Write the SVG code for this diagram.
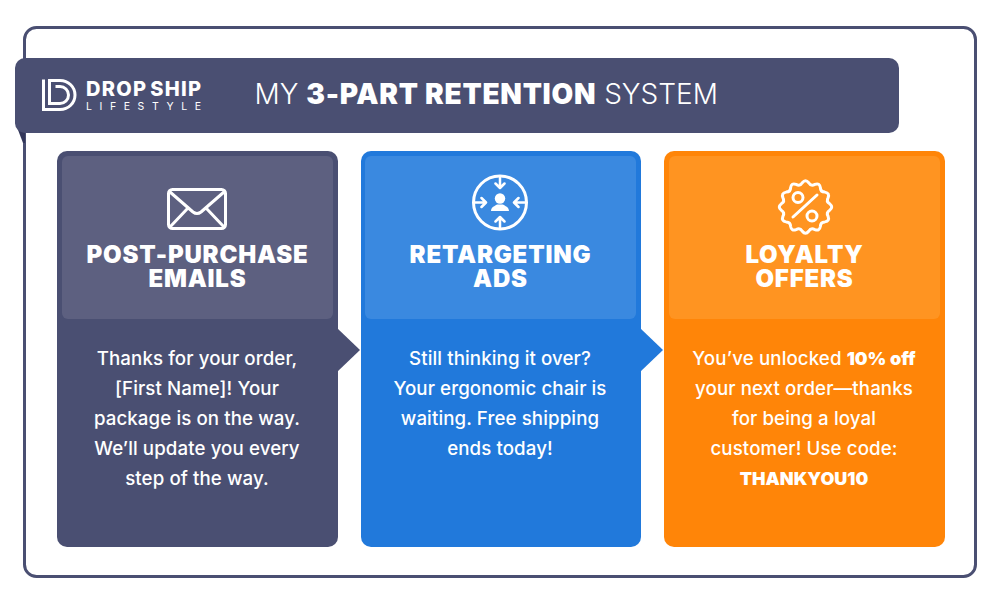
<svg xmlns="http://www.w3.org/2000/svg" width="1000" height="600" viewBox="0 0 1000 600">
<style>
text{font-family:Inter,"Liberation Sans",sans-serif;fill:#fff;text-anchor:middle}
.h{font-size:24px;font-weight:900;letter-spacing:.8px}
.b{font-size:18.700px;font-weight:500;letter-spacing:.1px}
.s{font-weight:900;font-size:18px;letter-spacing:0}
.i{fill:none;stroke:#fff;stroke-width:3;stroke-linecap:round;stroke-linejoin:round}
.f{fill:#fff;stroke:none}
</style>
<rect x="24.500" y="27.500" width="951" height="549" rx="12" fill="#fff" stroke="#4a4f72" stroke-width="3"/>
<g id="banner">
<path d="M15 122L23 143H25V122Z" fill="#33375a"/>
<rect x="15" y="58" width="884" height="75" rx="10" fill="#4a4f72"/>
<g id="logo">
<path d="M43.500 79.500V109.500H60C68.500 109.500 75 103 75 95S68.500 80.500 60 80.500H49.500V103.500H60C64.700 103.500 68.500 99.700 68.500 95S64.700 86.500 60 86.500H55.500" fill="none" stroke="#fff" stroke-width="3"/>
<text x="86" y="96" textLength="115" lengthAdjust="spacing" style="font-size:20px;font-weight:800;text-anchor:start;word-spacing:-3px">DROP SHIP</text>
<text x="86" y="110" textLength="115" lengthAdjust="spacing" style="font-size:10.500px;font-weight:400;text-anchor:start">LIFESTYLE</text>
</g>
<text x="254.500" y="104" style="font-size:28px;font-weight:300;letter-spacing:0;text-anchor:start">MY <tspan style="font-weight:900;letter-spacing:.75px">3-PART RETENTION</tspan> SYSTEM</text>
</g>
<g id="connectors">
<path d="M337 328L360 350L337 372Z" fill="#4a4f72"/>
<path d="M640 328L663 350L640 372Z" fill="#2179db"/>
</g>
<g id="card-emails">
<rect x="57" y="151" width="281" height="396" rx="10" fill="#4a4f72"/>
<rect x="62" y="156" width="271" height="163" rx="6" fill="#5d6080"/>
<g id="icon-mail" class="i">
<rect x="168.500" y="189.500" width="57" height="39" rx="4"/>
<path d="M170 192L193 212Q197 215 201 212L224 192M170 227L188 208M224 227L206 208"/>
</g>
<text class="h" x="197.500" y="263"><tspan x="197.500">POST-PURCHASE</tspan><tspan x="197.500" dy="24">EMAILS</tspan></text>
<text class="b" x="197" y="365">Thanks for your order,</text>
<text class="b" x="197" y="395">[First Name]! Your</text>
<text class="b" x="197" y="425">package is on the way.</text>
<text class="b" x="197" y="455">We’ll update you every</text>
<text class="b" x="197" y="485">step of the way.</text>
</g>
<g id="card-ads">
<rect x="361" y="151" width="280" height="396" rx="10" fill="#2179db"/>
<rect x="365" y="156" width="271" height="163" rx="6" fill="#3a89e0"/>
<g id="icon-target">
<circle class="i" cx="500" cy="202.500" r="26.500"/>
<path class="i" style="stroke-width:2.500" d="M500 178V187M495.500 183.500L500 188L504.500 183.500M500 227V218M495.500 221.500L500 217L504.500 221.500M475 202.500H485M481.500 198L486 202.500L481.500 207M525 202.500H515M518.500 198L514 202.500L518.500 207"/>
<circle class="f" cx="500" cy="198.500" r="5.200"/>
<path class="f" d="M491 211C491 207 495 206 497 204.500H503C505 206 509 207 509 211Z"/>
</g>
<text class="h" x="500.500" y="263"><tspan x="500.500">RETARGETING</tspan><tspan x="500.500" dy="24">ADS</tspan></text>
<text class="b" x="500" y="365">Still thinking it over?</text>
<text class="b" x="500" y="395">Your ergonomic chair is</text>
<text class="b" x="500" y="425">waiting. Free shipping</text>
<text class="b" x="500" y="455">ends today!</text>
</g>
<g id="card-offers">
<rect x="664" y="151" width="281" height="396" rx="10" fill="#ff8508"/>
<rect x="669" y="156" width="271" height="163" rx="6" fill="#ff9421"/>
<g id="icon-badge">
<path class="i" transform="translate(805.500 207) scale(.94)" style="stroke-width:3.200" d="M25.780 -3.390Q30 0 25.780 3.390Q21.730 5.820 24.020 9.950Q25.980 15 20.630 15.830Q15.910 15.910 15.830 20.630Q15 25.980 9.950 24.020Q5.820 21.730 3.390 25.780Q0 30 -3.390 25.780Q-5.820 21.730 -9.950 24.020Q-15 25.980 -15.830 20.630Q-15.910 15.910 -20.630 15.830Q-25.980 15 -24.020 9.950Q-21.730 5.820 -25.780 3.390Q-30 0 -25.780 -3.390Q-21.730 -5.820 -24.020 -9.950Q-25.980 -15 -20.630 -15.830Q-15.910 -15.910 -15.830 -20.630Q-15 -25.980 -9.950 -24.020Q-5.820 -21.730 -3.390 -25.780Q0 -30 3.390 -25.780Q5.820 -21.730 9.950 -24.020Q15 -25.980 15.830 -20.630Q15.910 -15.910 20.630 -15.830Q25.980 -15 24.020 -9.950Q21.730 -5.820 25.780 -3.390Z"/>
<circle class="i" cx="798" cy="197.500" r="5"/>
<circle class="i" cx="812" cy="216" r="5"/>
<path class="i" d="M793 217L817 195"/>
</g>
<text class="h" x="804.500" y="263"><tspan x="804.500">LOYALTY</tspan><tspan x="804.500" dy="24">OFFERS</tspan></text>
<text class="b" x="804" y="365">You’ve unlocked <tspan class="s">10% off</tspan></text>
<text class="b" x="804" y="395">your next order—thanks</text>
<text class="b" x="804" y="425">for being a loyal</text>
<text class="b" x="804" y="455">customer! Use code:</text>
<text class="s" x="804" y="485">THANKYOU10</text>
</g>
</svg>
